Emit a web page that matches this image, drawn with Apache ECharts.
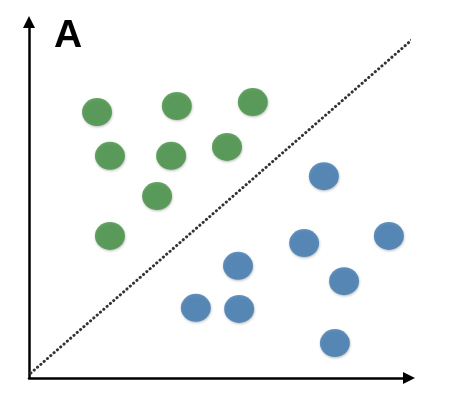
<!DOCTYPE html>
<html>
<head>
<meta charset="utf-8">
<script src="https://cdn.jsdelivr.net/npm/echarts@6/dist/echarts.min.js"></script>
<style>html,body{margin:0;padding:0;background:#fff}#c{width:456px;height:396px}</style>
</head>
<body>
<div id="c"></div>
<script>
// Class A (green) points: [x, y]
const greenX = [1.79, 3.89, 5.89, 2.13, 3.74, 5.21, 3.37, 2.13];
const greenY = [7.47, 7.64, 7.75, 6.24, 6.24, 6.49, 5.11, 3.99];
// Class B (blue) points
const blueX = [7.76, 9.47, 7.24, 5.50, 8.29, 4.39, 5.53, 8.05];
const blueY = [5.67, 3.99, 3.79, 3.15, 2.72, 1.97, 1.94, 0.98];
// Separating line endpoints
const lineX = [0.05, 10.16];
const lineY = [0.14, 9.58];
const panelLabel = 'A';

const zip = (xs, ys) => xs.map((x, i) => [x, ys[i]]);
const chart = echarts.init(document.getElementById('c'), null, {renderer: 'canvas'});
const axisCommon = {
  type: 'value', min: 0, max: 10,
  axisTick: {show: false}, axisLabel: {show: false}, splitLine: {show: false},
  axisLine: {show: true, onZero: false, symbol: ['none', 'triangle'], symbolSize: [12, 12],
    lineStyle: {color: '#000', width: 2.5}}
};
const dotStyle = (c) => ({color: c, shadowBlur: 2.5, shadowColor: 'rgba(0,0,0,0.3)', shadowOffsetX: 0.5, shadowOffsetY: 1.2});
chart.setOption({
  animation: false,
  grid: {left: 29, right: 47, top: 22, bottom: 18},
  xAxis: axisCommon,
  yAxis: axisCommon,
  graphic: [{type: 'text', x: 54, y: 36.5, style: {text: panelLabel, font: 'bold 39px "Liberation Sans", Arial, sans-serif', fill: '#000', verticalAlign: 'middle'}}],
  series: [
    {type: 'line', data: zip(lineX, lineY), symbol: 'none', clip: false, silent: true,
     lineStyle: {color: '#333', width: 3, type: [0.1, 4.3], cap: 'round'}},
    {type: 'scatter', data: zip(greenX, greenY), symbolSize: [30, 28], itemStyle: dotStyle('#3f8f3f')},
    {type: 'scatter', data: zip(blueX, blueY), symbolSize: [30, 28], itemStyle: dotStyle('#3b78b0')}
  ]
});
</script>
</body>
</html>
